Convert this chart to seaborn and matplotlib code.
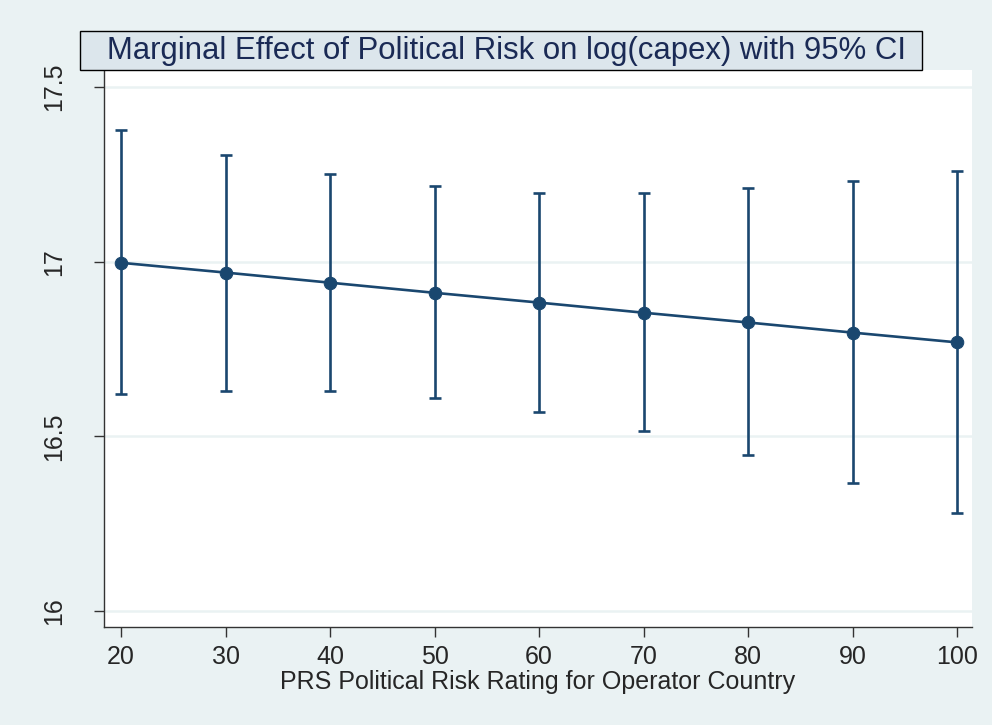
import numpy as np
import pandas as pd
import seaborn as sns
import matplotlib.pyplot as plt
from matplotlib.patches import Rectangle

# PRS rating levels and predicted log(capex) with 95% CI
rating = [20, 30, 40, 50, 60, 70, 80, 90, 100]
margin = [16.997, 16.969, 16.940, 16.911, 16.883, 16.854, 16.826, 16.797, 16.769]
ci_low = [16.620, 16.631, 16.629, 16.609, 16.571, 16.514, 16.446, 16.366, 16.280]
ci_high = [17.377, 17.306, 17.251, 17.217, 17.197, 17.197, 17.211, 17.231, 17.260]

df = pd.DataFrame({'rating': rating, 'margin': margin, 'lo': ci_low, 'hi': ci_high})

bg = '#EAF2F3'
navy = '#1A476F'

sns.set_style('white')
plt.rcParams['font.family'] = ['Liberation Sans', 'DejaVu Sans']

fig = plt.figure(figsize=(9.92, 7.25), dpi=100, facecolor=bg)
ax = fig.add_axes([0.1048, 0.1352, 0.875, 0.7682])
ax.set_facecolor('white')

ax.errorbar(df['rating'], df['margin'],
            yerr=[df['margin'] - df['lo'], df['hi'] - df['margin']],
            fmt='none', ecolor=navy, elinewidth=1.9, capsize=4.5, capthick=1.9, zorder=2)
sns.lineplot(data=df, x='rating', y='margin', ax=ax, color=navy, linewidth=1.9,
             marker='o', markersize=9, markeredgecolor=navy, zorder=3)

ax.set_xlim(18.37, 101.4)
ax.set_ylim(15.954, 17.549)
ax.set_xticks(rating)
ax.set_yticks([16, 16.5, 17, 17.5])
ax.set_yticklabels(['16', '16.5', '17', '17.5'], rotation=90, va='center')
ax.yaxis.grid(True, color=bg, linewidth=1.8)
ax.xaxis.grid(False)
ax.set_axisbelow(True)

for s in ['top', 'right']:
    ax.spines[s].set_visible(False)
for s in ['left', 'bottom']:
    ax.spines[s].set_color('#333333')
    ax.spines[s].set_linewidth(1.0)

ax.tick_params(axis='y', direction='out', length=7, width=1, color='#333333',
               labelsize=18, pad=20, left=True)
ax.tick_params(axis='x', direction='out', length=7, width=1, color='#333333',
               labelsize=18, pad=6, bottom=True)

ax.set_xlabel('PRS Political Risk Rating for Operator Country', fontsize=18, labelpad=1)
ax.set_ylabel('')

# boxed title like Stata's s2color
fig.patches.append(Rectangle((0.0806, 0.9034), 0.849, 0.0536, transform=fig.transFigure,
                             facecolor='#DCE6EC', edgecolor='black', linewidth=1.0, zorder=5))
fig.text(0.511, 0.929, 'Marginal Effect of Political Risk on log(capex) with 95% CI',
         ha='center', va='center', fontsize=22.4, color='#1A2A55', zorder=6)

plt.savefig('out.png', dpi=100, facecolor=bg)
